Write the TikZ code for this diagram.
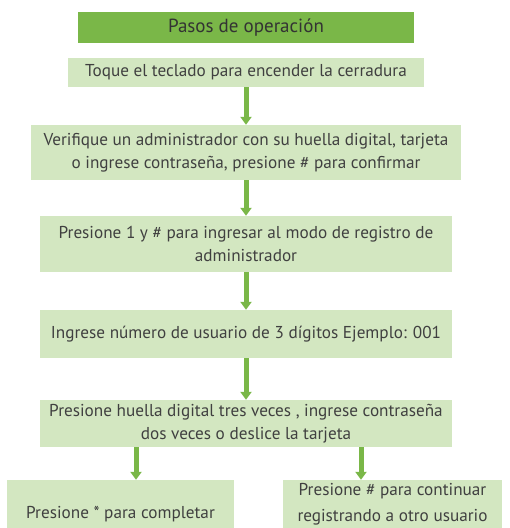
\documentclass[tikz,border=0pt]{standalone}
\usepackage{fontspec}
\setmainfont{PT Sans}
\usetikzlibrary{arrows.meta, positioning}
\definecolor{headgreen}{RGB}{122, 183, 72}
\definecolor{boxgreen}{RGB}{211, 231, 193}
\definecolor{textgray}{RGB}{64, 64, 64}

\begin{document}
\begin{tikzpicture}[x=1pt, y=-1pt,
    stepbox/.style={fill=boxgreen, inner sep=0pt, text=textgray, align=center,
      font=\fontsize{17.2}{22.5}\selectfont},
    headbox/.style={fill=headgreen, inner sep=0pt, text=textgray!80!black,
      font=\fontsize{19}{22}\selectfont},
    arr/.style={-{Triangle[width=11pt, length=8pt]}, line width=5pt, headgreen}]
  \useasboundingbox (0,0) rectangle (510,528);
  \clip (0,0) rectangle (510,528);

  % Title
  \node[headbox, minimum width=336pt, minimum height=31pt] (head) at (246, 27.5) {Pasos de operación};

  % Steps
  \node[stepbox, minimum width=356pt, minimum height=29pt] (s1) at (246, 72.5) {Toque el teclado para encender la cerradura};
  \node[stepbox, minimum width=430pt, minimum height=55pt] (s2) at (246, 152.5) {Verifique un administrador con su huella digital, tarjeta\\o ingrese contraseña, presione \# para confirmar};
  \node[stepbox, minimum width=412pt, minimum height=56pt] (s3) at (246, 244) {Presione 1 y \# para ingresar al modo de registro de\\administrador};
  \node[stepbox, minimum width=412pt, minimum height=48pt] (s4) at (246, 334) {Ingrese número de usuario de 3 dígitos Ejemplo: 001};
  \node[stepbox, minimum width=412pt, minimum height=47pt] (s5) at (246, 423.5) {Presione huella digital tres veces , ingrese contraseña\\dos veces o deslice la tarjeta};

  % Endings
  \node[stepbox, minimum width=227pt, minimum height=68pt] (done) at (120.5, 514) {Presione * para completar};
  \node[stepbox, minimum width=219pt, minimum height=48pt, font=\fontsize{17.2}{26}\selectfont] (next) at (392.5, 504) {Presione \# para continuar\\registrando a otro usuario};

  % Arrows
  \draw[arr] (s1) -- (s2);
  \draw[arr] (s2) -- (s3);
  \draw[arr] (s3) -- (s4);
  \draw[arr] (s4) -- (s5);
  \draw[arr] ([xshift=-110pt]s5.south) -- ([xshift=-110pt]s5.south |- done.north);
  \draw[arr] ([xshift=115pt]s5.south) -- ([xshift=115pt]s5.south |- next.north);
\end{tikzpicture}
\end{document}
